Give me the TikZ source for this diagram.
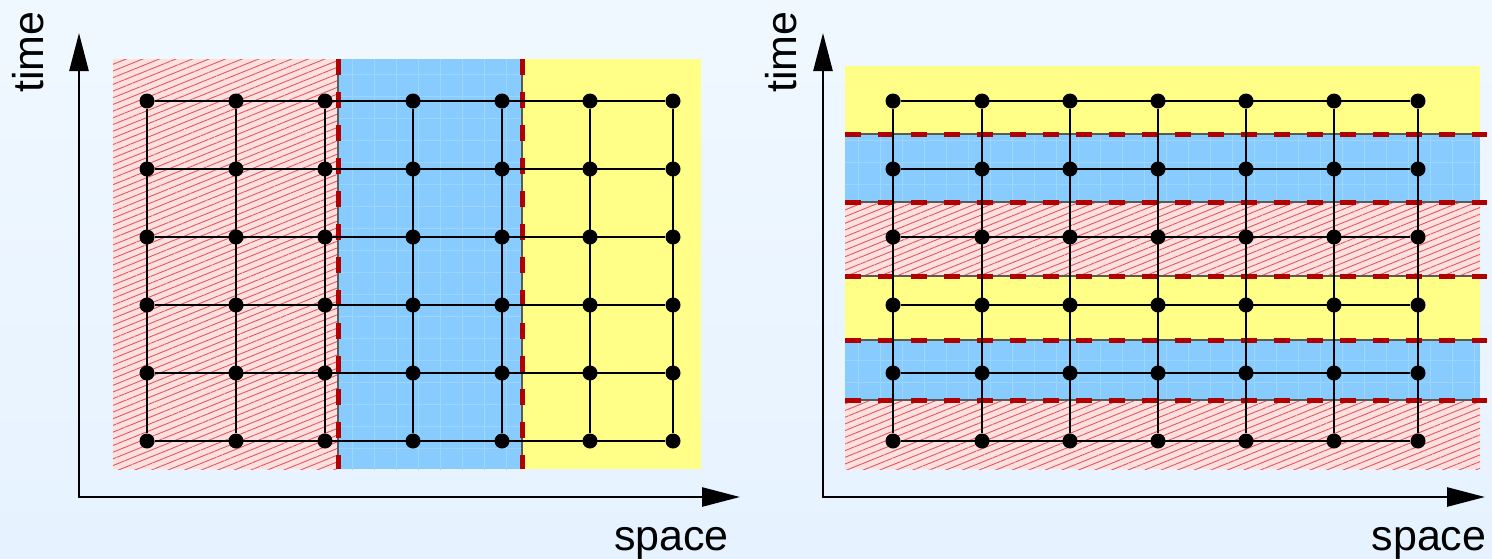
\documentclass[tikz,border=0pt]{standalone}
\usepackage{fontspec}
\newfontfamily\labfont{Liberation Sans}
\usetikzlibrary{arrows.meta,patterns.meta}
\definecolor{bgtop}{HTML}{F0F8FF}
\definecolor{bgbot}{HTML}{E6F2FF}
\definecolor{regblue}{HTML}{88CCFF}
\definecolor{bluegrid}{HTML}{9CD5FF}
\definecolor{regyellow}{HTML}{FFFF88}
\definecolor{regpink}{HTML}{FFE0E0}
\definecolor{hatchred}{HTML}{E05A5A}
\definecolor{dashred}{HTML}{B00000}
\begin{document}
\begin{tikzpicture}[x=1pt,y=-1pt,
  dot/.style={circle,fill=black,inner sep=0pt,minimum size=15pt},
  gridline/.style={line width=2pt,black},
  axisline/.style={line width=2.6pt,{Triangle[length=38pt,width=19pt]}-{Triangle[length=38pt,width=19pt]}},
  bound/.style={line width=5pt,dashred,dash pattern=on 16pt off 17pt},
  edgeline/.style={line width=1.3pt,black!65},
  lab/.style={font=\labfont\fontsize{43}{50}\selectfont,inner sep=0pt},
  hatched/.style={fill=regpink,postaction={pattern={Lines[angle=22,distance=6.2pt,line width=0.9pt]},pattern color=hatchred}},
  blueband/.style={fill=regblue,postaction={pattern={Hatch[angle=0,distance=22pt,line width=0.8pt]},pattern color=bluegrid}},
  yellowband/.style={fill=regyellow}
]
\useasboundingbox (0,0) rectangle (1492,558);
\shade[top color=bgtop,bottom color=bgbot] (0,0) rectangle (1492,558);

% ---------- left panel ----------
\fill[hatched] (113,59) rectangle (338,469);
\fill[blueband] (338,59) rectangle (522,469);
\fill[yellowband] (522,59) rectangle (701,469);
\coordinate (LbA1) at (338,59); \coordinate (LbA2) at (338,469);
\coordinate (LbB1) at (522,59); \coordinate (LbB2) at (522,469);
\draw[edgeline] (LbA1) -- (LbA2);
\draw[edgeline] (LbB1) -- (LbB2);
\draw[bound] (LbA1) -- (LbA2);
\draw[bound] (LbB1) -- (LbB2);

\coordinate (LO) at (79,497);
\coordinate (LT) at (79,33);
\coordinate (LX) at (740,497);
\draw[axisline] (LT) -- (LO) -- (LX);

\foreach \c/\x in {1/147,2/236,3/325,4/413,5/502,6/590,7/673}
  \foreach \r/\y in {1/101,2/169,3/237,4/305,5/373,6/441}
    \node[dot] (L-\c-\r) at (\x,\y) {};
\foreach \c in {1,...,7}
  \draw[gridline] (L-\c-1) -- (L-\c-6);
\foreach \r in {1,...,6}
  \draw[gridline] (L-1-\r) -- (L-7-\r);

\node[lab,rotate=90,anchor=base] (Ltime) at (43,52) {time};
\node[lab,anchor=base] (Lspace) at (671.5,550) {space};

% ---------- right panel ----------
\fill[yellowband] (845,66) rectangle (1480,134);
\fill[blueband] (845,134) rectangle (1480,202);
\fill[hatched] (845,202) rectangle (1480,276);
\fill[yellowband] (845,276) rectangle (1480,340);
\fill[blueband] (845,340) rectangle (1480,400);
\fill[hatched] (845,400) rectangle (1480,469);
\foreach \k/\y in {1/134,2/202,3/276,4/340,5/400}{
  \coordinate (Rb\k a) at (845,\y);
  \coordinate (Rb\k b) at (1487,\y);
  \draw[edgeline] (Rb\k a) -- (Rb\k b);
  \draw[bound] (Rb\k a) -- (Rb\k b);
}

\coordinate (RO) at (823,497);
\coordinate (RT) at (823,33);
\coordinate (RX) at (1485,497);
\draw[axisline] (RT) -- (RO) -- (RX);

\foreach \c/\x in {1/893,2/982,3/1070,4/1158,5/1246,6/1334,7/1418}
  \foreach \r/\y in {1/101,2/169,3/237,4/305,5/373,6/441}
    \node[dot] (R-\c-\r) at (\x,\y) {};
\foreach \c in {1,...,7}
  \draw[gridline] (R-\c-1) -- (R-\c-6);
\foreach \r in {1,...,6}
  \draw[gridline] (R-1-\r) -- (R-7-\r);

\node[lab,rotate=90,anchor=base] (Rtime) at (796,52) {time};
\node[lab,anchor=base] (Rspace) at (1429,550) {space};
\end{tikzpicture}
\end{document}
